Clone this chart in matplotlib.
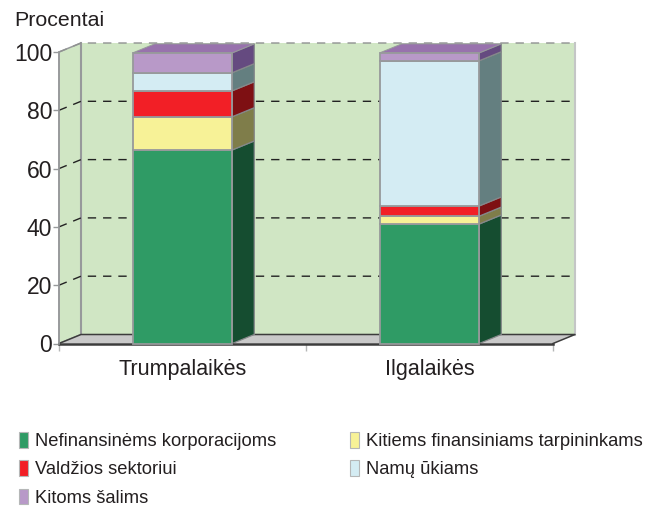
import matplotlib
matplotlib.use('Agg')
import matplotlib.pyplot as plt
from matplotlib.patches import Polygon, Patch
import numpy as np

plt.rcParams['font.family'] = ['Liberation Sans', 'DejaVu Sans']

## DATA
categories = ['Trumpalaikės', 'Ilgalaikės']
series_names = ['Nefinansinėms korporacijoms', 'Kitiems finansiniams tarpininkams',
                'Valdžios sektoriui', 'Namų ūkiams', 'Kitoms šalims']
nefinansines = [66.4, 41.0]
finansiniai = [11.4, 2.7]
valdzios = [8.9, 3.5]
namu_ukiai = [6.2, 49.8]
kitos = [6.8, 2.7]
y_ticks = [0, 20, 40, 60, 80, 100]

series = [nefinansines, finansiniai, valdzios, namu_ukiai, kitos]
front_colors = ['#2f9b65', '#f7f297', '#f21f26', '#d4ecf3', '#b899c8']
side_colors = ['#154d30', '#7f7d4a', '#7e1013', '#647f80', '#654a80']
top_color = '#9872ad'
wall_color = '#d0e6c4'
floor_color = '#c9c9c9'
edge_color = '#97999b'

## LAYOUT (pixels of the 661x509 picture)
W, H = 661, 509
fig = plt.figure(figsize=(W / 100, H / 100), dpi=100)
ax = fig.add_axes([59 / W, 1 - 343.5 / H, 494 / W, 291.5 / H])
ax.set_xlim(0, 2)
ax.set_ylim(0, 100)

# depth of the fake 3d box in data units
dx = 22 / 247
dy = 9 / 2.915
bar_w = 0.403


def poly(pts, **kw):
    kw.setdefault('clip_on', False)
    ax.add_patch(Polygon(pts, closed=True, **kw))


# walls and floor
poly([(0, 0), (dx, dy), (dx, 100 + dy), (0, 100)], fc=wall_color, ec=edge_color, lw=1.1, zorder=1)
poly([(dx, dy), (2 + dx, dy), (2 + dx, 100 + dy), (dx, 100 + dy)], fc=wall_color, ec='none', zorder=1)
ax.plot([dx, dx], [dy, 100 + dy], color=edge_color, lw=1.5, clip_on=False, zorder=1.5)
ax.plot([2 + dx, 2 + dx], [dy, 100 + dy], color='#c4c6c6', lw=1.5, clip_on=False, zorder=1.5)
poly([(0, 0), (dx, dy), (2 + dx, dy), (2, 0)], fc=floor_color, ec='none', zorder=1.6)
ax.plot([0, dx, 2 + dx, 2], [0, dy, dy, 0], color='#3c3c3c', lw=1.1, clip_on=False, zorder=1.7)

# dashed grid on the walls
for t in y_ticks[1:]:
    col = '#8f9191' if t == 100 else '#222222'
    ax.plot([0, dx, 2 + dx], [t, t + dy, t + dy], color=col, lw=1.0,
            dashes=(6, 5), clip_on=False, zorder=2)

# stacked bars
for i, cat in enumerate(categories):
    x0 = i + 0.5 - bar_w / 2
    x1 = x0 + bar_w
    base = 0
    for vals, fc, sc in zip(series, front_colors, side_colors):
        v = vals[i]
        poly([(x1, base), (x1 + dx, base + dy), (x1 + dx, base + v + dy), (x1, base + v)],
             fc=sc, ec='#85888a', lw=0.9, zorder=3)
        ax.bar(i + 0.5, v, bar_w, bottom=base, color=fc, edgecolor=edge_color, linewidth=1.3,
               zorder=4, clip_on=False)
        base += v
    poly([(x0, base), (x0 + dx, base + dy), (x1 + dx, base + dy), (x1, base)],
         fc=top_color, ec=edge_color, lw=0.7, zorder=3)

# axes
for name in ['top', 'right']:
    ax.spines[name].set_visible(False)
ax.spines['left'].set_color(edge_color)
ax.spines['left'].set_linewidth(1.2)
ax.spines['left'].set_zorder(5)
ax.spines['bottom'].set_color('#3c3c3c')
ax.spines['bottom'].set_linewidth(1.8)
ax.spines['bottom'].set_zorder(3.5)
ax.patch.set_visible(False)

ax.set_yticks(y_ticks)
ax.tick_params(axis='y', length=4, width=1, color=edge_color, labelsize=16.5, pad=1,
               labelcolor='#231f20')
ax.set_xticks([0, 1, 2])
ax.set_xticklabels([])
ax.tick_params(axis='x', which='major', length=5, width=1, color='#b5b7b7')
ax.set_xticks([0.5, 1.5], minor=True)
ax.set_xticklabels(categories, minor=True)
ax.tick_params(axis='x', which='minor', length=0, labelsize=15.5, pad=11, labelcolor='#231f20')

fig.text(14 / W, 1 - 20 / H, 'Procentai', fontsize=15.4, color='#231f20', va='center', ha='left')

# legend, filled by column so order the handles by column
handles = [Patch(fc=c, ec='#b5b7b7', lw=0.8) for c in front_colors]
order = [0, 2, 4, 1, 3]
fig.legend([handles[k] for k in order], [series_names[k] for k in order],
           ncol=2, frameon=False, fontsize=13.2, labelcolor='#231f20',
           loc='upper left', bbox_to_anchor=(19 / W, 1 - 432 / H), borderaxespad=0, borderpad=0,
           handlelength=0.5, handleheight=0.95, handletextpad=0.39,
           labelspacing=0.55, columnspacing=4.0)

fig.savefig('out.png', dpi=100)
